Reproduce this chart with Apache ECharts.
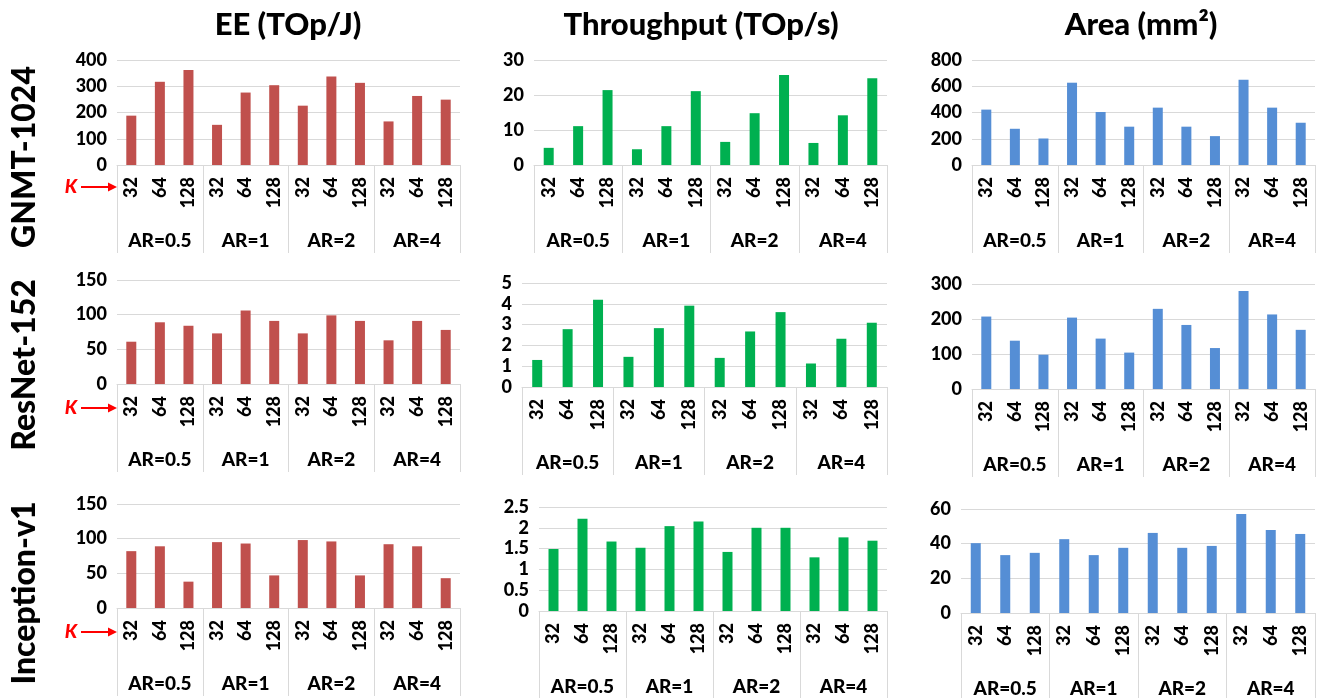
<!DOCTYPE html>
<html>
<head>
<meta charset="utf-8">
<script src="https://cdn.jsdelivr.net/npm/echarts@6/dist/echarts.min.js"></script>
<style>
html,body{margin:0;padding:0;background:#fff;}
#c{width:1317px;height:698px;}
</style>
</head>
<body>
<div id="c"></div>
<script>
// ---- data ----
const kLabels = ['32','64','128','32','64','128','32','64','128','32','64','128'];
const arLabels = ['AR=0.5','AR=1','AR=2','AR=4'];
const colTitles = ['EE (TOp/J)','Throughput (TOp/s)','Area (mm²)'];
const rowTitles = ['GNMT-1024','ResNet-152','Inception-v1'];

const eeGnmt     = [188, 317, 362, 153, 276, 304, 226, 337, 313, 166, 263, 249];
const tpGnmt     = [4.9, 11.1, 21.4, 4.5, 11.1, 21.1, 6.6, 14.8, 25.7, 6.3, 14.2, 24.8];
const areaGnmt   = [422, 276, 202, 627, 404, 292, 437, 292, 220, 650, 437, 322];
const eeResnet   = [61, 89, 84, 73, 106, 91, 73, 99, 91, 63, 91, 78];
const tpResnet   = [1.30, 2.78, 4.20, 1.45, 2.83, 3.91, 1.40, 2.67, 3.60, 1.13, 2.32, 3.09];
const areaResnet = [207, 138, 98, 204, 144, 104, 229, 183, 117, 280, 213, 169];
const eeIncep    = [82, 89, 38, 95, 93, 47, 98, 96, 47, 92, 89, 43];
const tpIncep    = [1.49, 2.22, 1.67, 1.52, 2.04, 2.15, 1.42, 2.00, 2.00, 1.29, 1.77, 1.69];
const areaIncep  = [40.3, 33.4, 34.7, 42.6, 33.4, 37.6, 46.2, 37.6, 38.7, 57.1, 47.9, 45.6];

const yMaxes      = [[400, 30, 800], [150, 5, 300], [150, 2.5, 60]];
const yIntervals  = [[100, 10, 200], [50, 1, 100], [50, 0.5, 20]];

// ---- layout / style ----
const FONT = 'Lato, "Open Sans", sans-serif';
const W = 900;
const colors = ['#C0504D', '#00B050', '#558ED5'];
const panels = [
  [eeGnmt, tpGnmt, areaGnmt],
  [eeResnet, tpResnet, areaResnet],
  [eeIncep, tpIncep, areaIncep]
];
// [left, top, right, height]
const boxes = [
  [[117, 60, 460, 105], [534, 60, 887, 105], [972, 60, 1315, 105]],
  [[117, 280, 460, 104], [522, 283, 887, 104], [972, 284, 1315, 105]],
  [[117, 504, 460, 104], [539, 507, 887, 104], [961, 509, 1315, 104]]
];

const grid = [], xAxis = [], yAxis = [], series = [];
let gi = 0;
for (let r = 0; r < 3; r++) {
  for (let c = 0; c < 3; c++) {
    const b = boxes[r][c];
    grid.push({left: b[0], top: b[1], width: b[2] - b[0], height: b[3], containLabel: false});
    xAxis.push({
      type: 'category', gridIndex: gi, data: kLabels, position: 'bottom',
      axisLine: {show: true, lineStyle: {color: '#D9D9D9', width: 1}},
      axisTick: {show: false},
      axisLabel: {rotate: 90, margin: 12, fontFamily: FONT, fontWeight: W, fontSize: 18, color: '#000', interval: 0}
    });
    xAxis.push({
      type: 'category', gridIndex: gi, data: arLabels, position: 'bottom',
      axisLine: {show: false},
      axisTick: {show: true, length: 88, lineStyle: {color: '#D9D9D9', width: 1}},
      axisLabel: {margin: 66, fontFamily: FONT, fontWeight: W, fontSize: 19, color: '#000', interval: 0}
    });
    yAxis.push({
      type: 'value', gridIndex: gi, min: 0, max: yMaxes[r][c], interval: yIntervals[r][c],
      axisLine: {show: false}, axisTick: {show: false},
      splitLine: {lineStyle: {color: '#D9D9D9', width: 1}},
      axisLabel: {margin: 10, fontFamily: FONT, fontWeight: W, fontSize: 18, color: '#000'}
    });
    series.push({
      type: 'bar', xAxisIndex: gi * 2, yAxisIndex: gi, data: panels[r][c],
      barWidth: 10, itemStyle: {color: colors[c]}, silent: true
    });
    gi++;
  }
}

const graphic = [];
const titleX = [288, 701, 1141];
colTitles.forEach((t, i) => graphic.push({
  type: 'text', x: titleX[i], y: 25,
  style: {text: t, fontFamily: FONT, fontWeight: W, fontSize: 31, fill: '#000', align: 'center', verticalAlign: 'middle'}
}));
const rowY = [157, 365, 593];
rowTitles.forEach((t, i) => graphic.push({
  type: 'text', x: 25, y: rowY[i], rotation: Math.PI / 2,
  style: {text: t, fontFamily: FONT, fontWeight: W, fontSize: 32, fill: '#000', align: 'center', verticalAlign: 'middle'}
}));
const kY = [187, 408, 632];
kY.forEach(y => {
  graphic.push({type: 'text', x: 71, y: y,
    style: {text: 'K', fontFamily: FONT, fontWeight: W, fontStyle: 'italic', fontSize: 19, fill: '#FF0000', align: 'center', verticalAlign: 'middle'}});
  graphic.push({type: 'line', shape: {x1: 81, y1: y, x2: 110, y2: y}, style: {stroke: '#FF0000', lineWidth: 2}});
  graphic.push({type: 'polygon', shape: {points: [[108, y - 4.5], [117, y], [108, y + 4.5]]}, style: {fill: '#FF0000'}});
});

const chart = echarts.init(document.getElementById('c'), null, {renderer: 'canvas'});
chart.setOption({animation: false, backgroundColor: '#fff', grid, xAxis, yAxis, series, graphic});
</script>
</body>
</html>
